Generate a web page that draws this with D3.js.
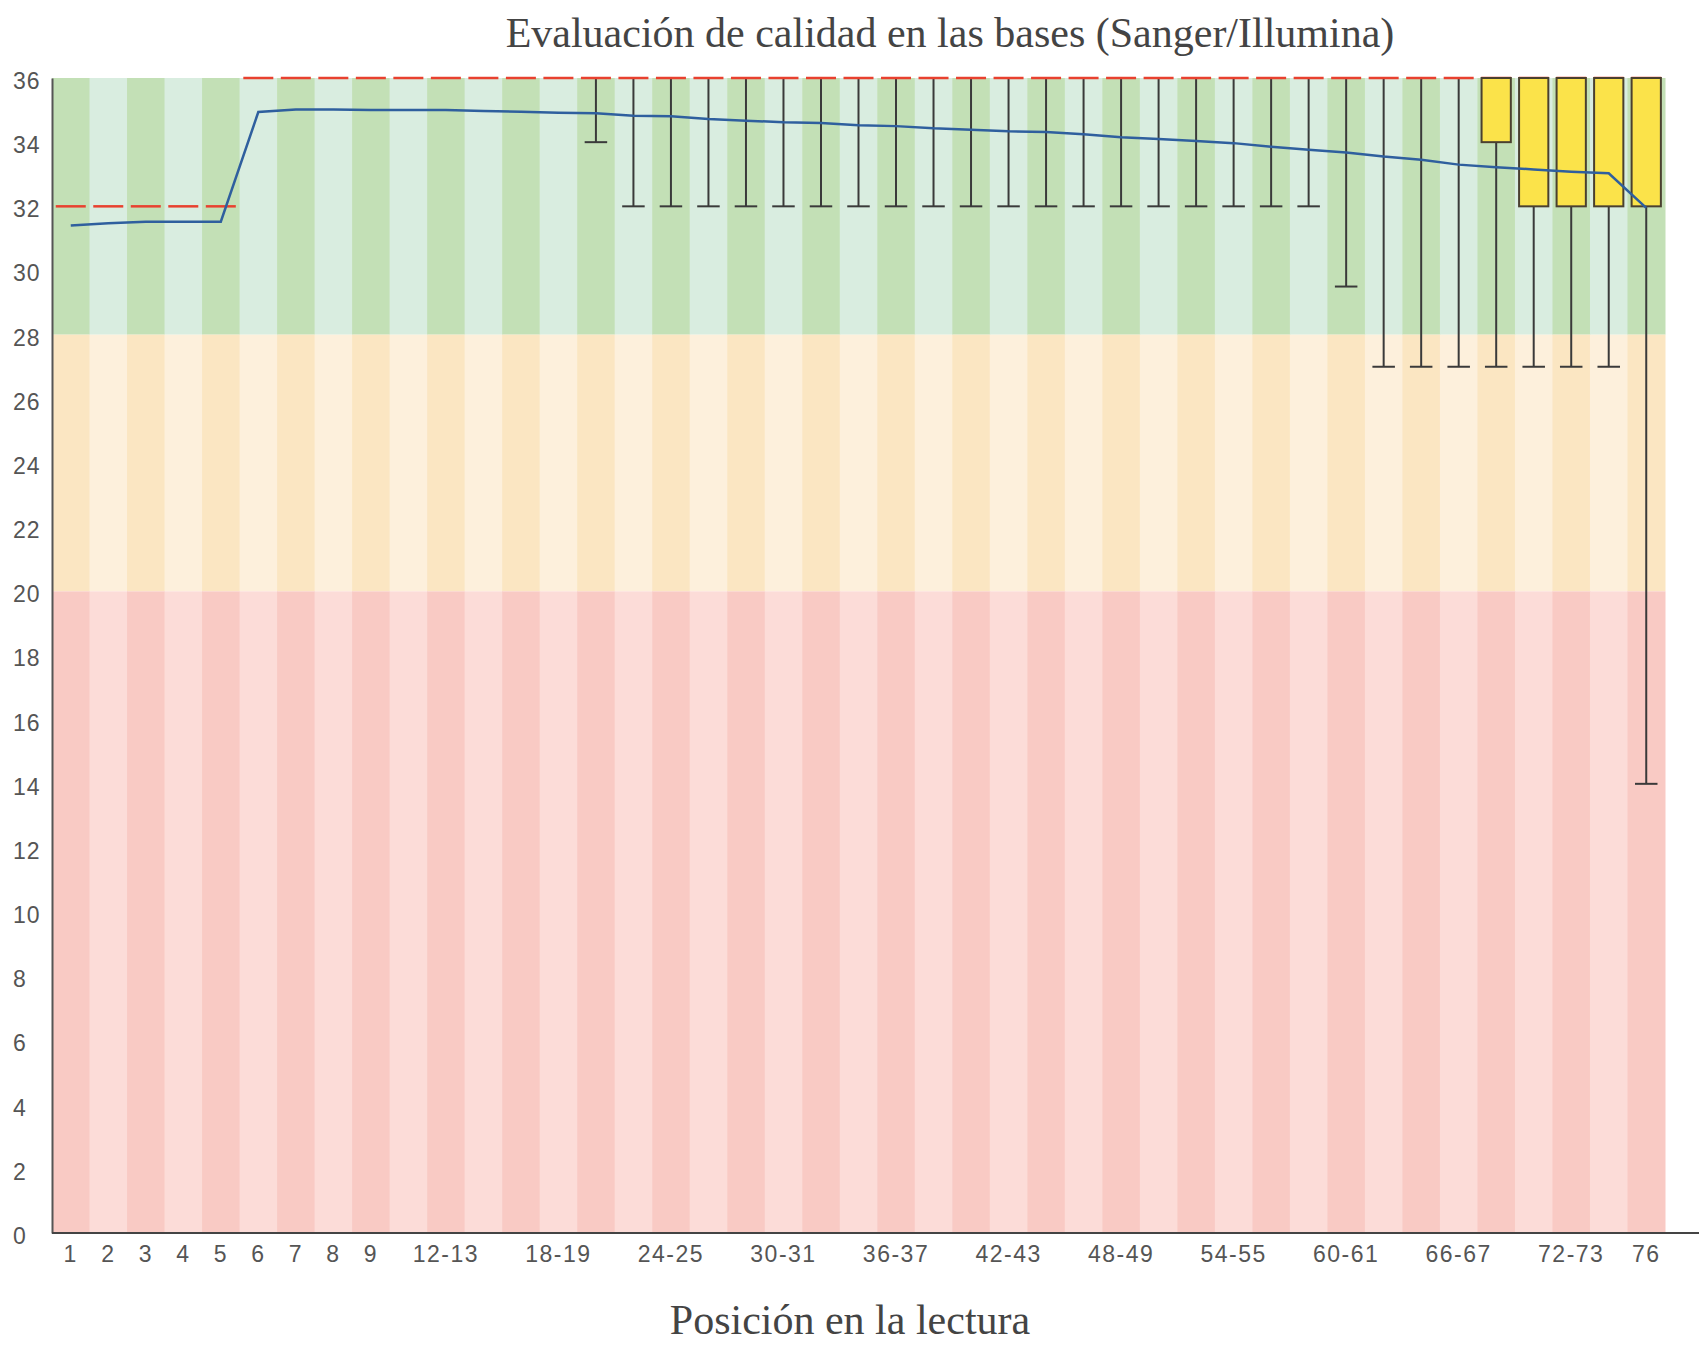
<!DOCTYPE html>
<html>
<head>
<meta charset="utf-8">
<script src="https://cdn.jsdelivr.net/npm/d3@7"></script>
<style>
  html, body { margin: 0; padding: 0; background: #ffffff; }
  svg { display: block; }
</style>
</head>
<body>
<svg id="chart" width="1699" height="1347"></svg>
<script>
// ---------- DATA ----------
const categories = ["1","2","3","4","5","6","7","8","9",
  "10-11","12-13","14-15","16-17","18-19","20-21","22-23","24-25","26-27","28-29",
  "30-31","32-33","34-35","36-37","38-39","40-41","42-43","44-45","46-47","48-49",
  "50-51","52-53","54-55","56-57","58-59","60-61","62-63","64-65","66-67","68-69",
  "70-71","72-73","74-75","76"];

const meanValues = [31.40,31.47,31.52,31.52,31.52,34.94,35.02,35.02,35.00,
  35.00,35.00,34.97,34.95,34.92,34.90,34.82,34.81,34.72,34.67,
  34.62,34.60,34.53,34.50,34.43,34.39,34.34,34.32,34.25,34.15,
  34.10,34.04,33.97,33.86,33.76,33.68,33.55,33.45,33.30,33.22,
  33.15,33.08,33.03,31.95];

const medianValues = [32,32,32,32,32,36,36,36,36,
  36,36,36,36,36,36,36,36,36,36,
  36,36,36,36,36,36,36,36,36,36,
  36,36,36,36,36,36,36,36,36,36,
  36,36,36,36];

const lowerQuartile = [32,32,32,32,32,36,36,36,36,
  36,36,36,36,36,36,36,36,36,36,
  36,36,36,36,36,36,36,36,36,36,
  36,36,36,36,36,36,36,36,36,34,
  32,32,32,32];

const upperQuartile = [32,32,32,32,32,36,36,36,36,
  36,36,36,36,36,36,36,36,36,36,
  36,36,36,36,36,36,36,36,36,36,
  36,36,36,36,36,36,36,36,36,36,
  36,36,36,36];

const lowerWhisker = [32,32,32,32,32,36,36,36,36,
  36,36,36,36,36,34,32,32,32,32,
  32,32,32,32,32,32,32,32,32,32,
  32,32,32,32,32,29.5,27,27,27,27,
  27,27,27,14];

const upperWhisker = [32,32,32,32,32,36,36,36,36,
  36,36,36,36,36,36,36,36,36,36,
  36,36,36,36,36,36,36,36,36,36,
  36,36,36,36,36,36,36,36,36,36,
  36,36,36,36];

const xTickLabels = ["1","2","3","4","5","6","7","8","9","12-13","18-19","24-25",
  "30-31","36-37","42-43","48-49","54-55","60-61","66-67","72-73","76"];

const yTickValues = [0,2,4,6,8,10,12,14,16,18,20,22,24,26,28,30,32,34,36];

const zoneBounds = [[28,36],[20,28],[0,20]]; // good / reasonable / poor

const titleText = "Evaluación de calidad en las bases (Sanger/Illumina)";
const xTitleText = "Posición en la lectura";

// ---------- LAYOUT ----------
const plotLeft = 52, plotRight = 1665, plotTop = 78, plotBottom = 1233;
const zoneColors = [
  ["#c3e0b6", "#d9ede0"],
  ["#fbe6c2", "#fdf0dc"],
  ["#f9cac4", "#fcdcd8"]
];

const svg = d3.select("#chart");
const x = d3.scaleBand().domain(categories).range([plotLeft, plotRight]).paddingInner(0).paddingOuter(0);
const y = d3.scaleLinear().domain([0, 36]).range([plotBottom, plotTop]);
const bw = x.bandwidth();

// background stripes
const bg = svg.append("g");
categories.forEach((c, i) => {
  zoneBounds.forEach((z, zi) => {
    bg.append("rect")
      .attr("x", x(c))
      .attr("y", y(z[1]))
      .attr("width", bw + 0.5)
      .attr("height", y(z[0]) - y(z[1]))
      .attr("fill", zoneColors[zi][i % 2]);
  });
});

// whiskers
const wh = svg.append("g").attr("stroke", "#3a3a3a").attr("stroke-width", 2);
categories.forEach((c, i) => {
  const cx = x(c) + bw / 2;
  if (lowerWhisker[i] < medianValues[i]) {
    wh.append("line").attr("x1", cx).attr("x2", cx)
      .attr("y1", y(lowerWhisker[i])).attr("y2", y(upperWhisker[i]));
    wh.append("line").attr("x1", cx - bw * 0.3).attr("x2", cx + bw * 0.3)
      .attr("y1", y(lowerWhisker[i])).attr("y2", y(lowerWhisker[i]));
  }
});

// median
const md = svg.append("g").attr("stroke", "#e8412f").attr("stroke-width", 2.5);
categories.forEach((c, i) => {
  const cx = x(c) + bw / 2;
  md.append("line").attr("x1", cx - bw * 0.4).attr("x2", cx + bw * 0.4)
    .attr("y1", y(medianValues[i])).attr("y2", y(medianValues[i]));
});

// boxes
const bx = svg.append("g");
categories.forEach((c, i) => {
  if (upperQuartile[i] > lowerQuartile[i]) {
    const cx = x(c) + bw / 2;
    bx.append("rect")
      .attr("x", cx - bw * 0.39)
      .attr("y", y(upperQuartile[i]))
      .attr("width", bw * 0.78)
      .attr("height", y(lowerQuartile[i]) - y(upperQuartile[i]))
      .attr("fill", "#fbe34a")
      .attr("stroke", "#4a4030")
      .attr("stroke-width", 2);
  }
});

// mean line
const line = d3.line().x((d, i) => x(categories[i]) + bw / 2).y(d => y(d));
svg.append("path").datum(meanValues)
  .attr("d", line)
  .attr("fill", "none")
  .attr("stroke", "#2f5f9e")
  .attr("stroke-width", 2.5);

// axes
const yAxis = svg.append("g")
  .attr("transform", `translate(${plotLeft},0)`)
  .call(d3.axisLeft(y).tickValues(yTickValues).tickSize(0).tickFormat(d3.format("d")));
yAxis.select(".domain").attr("stroke", "#555").attr("stroke-width", 2);
yAxis.selectAll("text")
  .attr("text-anchor", "start")
  .attr("x", 13 - plotLeft)
  .attr("dy", "0.45em")
  .attr("fill", "#555")
  .style("font-family", "'Liberation Sans', Arial, sans-serif")
  .style("font-size", "23px")
  .style("letter-spacing", "1px");

const xAxis = svg.append("g")
  .attr("transform", `translate(0,${plotBottom})`)
  .call(d3.axisBottom(x).tickValues(xTickLabels).tickSize(0).tickPadding(13));
xAxis.select(".domain").remove();
xAxis.selectAll("text")
  .attr("fill", "#555")
  .style("font-family", "'Liberation Sans', Arial, sans-serif")
  .style("font-size", "23px")
  .style("letter-spacing", "1.5px");
svg.append("line")
  .attr("x1", plotLeft).attr("x2", 1699)
  .attr("y1", plotBottom).attr("y2", plotBottom)
  .attr("stroke", "#444").attr("stroke-width", 2);

// titles
svg.append("text")
  .attr("x", 950).attr("y", 47)
  .attr("text-anchor", "middle")
  .attr("fill", "#444")
  .style("font-family", "'Liberation Serif', 'Times New Roman', serif")
  .style("font-size", "42px")
  .text(titleText);

svg.append("text")
  .attr("x", 850).attr("y", 1334)
  .attr("text-anchor", "middle")
  .attr("fill", "#444")
  .style("font-family", "'Liberation Serif', 'Times New Roman', serif")
  .style("font-size", "42px")
  .text(xTitleText);
</script>
</body>
</html>
